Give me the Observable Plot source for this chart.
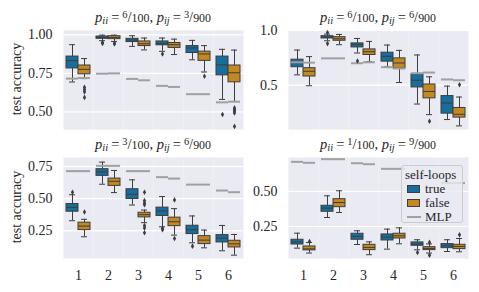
<!DOCTYPE html>
<html><head><meta charset="utf-8">
<script src="https://cdn.jsdelivr.net/npm/d3@7"></script>
<script src="https://cdn.jsdelivr.net/npm/@observablehq/plot@0.6"></script>
<style>
body{margin:0;background:#fff;}
#chart{position:relative;width:479px;height:292px;overflow:hidden;font-family:"Liberation Serif","Times New Roman","DejaVu Serif",serif;color:#262626;}
.panel{position:absolute;}
.title{position:absolute;font-size:14.5px;white-space:nowrap;transform:translate(-50%,-50%);line-height:1;}
.title sub{font-size:0.72em;vertical-align:-0.25em;line-height:0;}
.title .num{font-size:0.72em;vertical-align:0.4em;line-height:0;}
.title .den{font-size:0.82em;line-height:0;}
.title .eq{margin:0 3px;}
.ylab{position:absolute;font-size:14px;white-space:nowrap;transform:translate(-50%,-50%) rotate(-90deg);line-height:1;}
.legend{position:absolute;left:401px;top:165px;width:62px;height:58px;box-sizing:border-box;border:1px solid #cccccc;border-radius:3px;background:rgba(234,234,242,0.8);font-size:13px;line-height:1;}
.legend .row{position:absolute;left:5px;white-space:nowrap;height:13px;}
.legend .sw{display:inline-block;width:13px;height:8px;border:1px solid #3d3d3d;box-sizing:border-box;vertical-align:0px;margin-right:5px;}
.legend .ln{display:inline-block;width:14px;height:0;border-top:2px solid #a0a0a0;vertical-align:3px;margin-right:4px;}
</style></head>
<body><div id="chart"></div>
<script>
// ---- data ----
const categories = [1, 2, 3, 4, 5, 6];
const hues = ["true", "false"];
const hueColors = ["#176d9c", "#c38820"];
const piiLabels = [["6", "100"], ["6", "100"], ["3", "100"], ["1", "100"]];
const pijLabels = [["3", "900"], ["6", "900"], ["6", "900"], ["9", "900"]];

// box stats per category: [low whisker, q1, median, q3, high whisker]
const p1True = [[0.694,0.782,0.833,0.859,0.936],[0.962,0.974,0.983,0.989,0.998],[0.925,0.953,0.966,0.974,0.994],[0.893,0.932,0.944,0.957,0.979],[0.838,0.882,0.915,0.927,0.964],[0.581,0.737,0.805,0.859,0.906]];
const p1False = [[0.716,0.744,0.776,0.801,0.846],[0.957,0.972,0.983,0.991,0.998],[0.902,0.927,0.942,0.957,0.979],[0.872,0.915,0.936,0.947,0.972],[0.759,0.831,0.876,0.891,0.930],[0.568,0.692,0.754,0.801,0.901]];
const p1OutTrue = [[],[0.950,0.944],[],[0.876],[],[0.483]];
const p1OutFalse = [[0.660,0.645,0.630,0.594],[0.946,0.940],[],[],[0.731],[0.526,0.515,0.505,0.493,0.406]];
const p1MlpTrue = [0.716,0.748,0.714,0.669,0.615,0.562];
const p1MlpFalse = [0.720,0.750,0.705,0.662,0.615,0.566];

const p2True = [[0.594,0.664,0.706,0.733,0.821],[0.906,0.927,0.940,0.948,0.967],[0.794,0.845,0.870,0.882,0.927],[0.667,0.715,0.764,0.797,0.867],[0.327,0.479,0.545,0.600,0.776],[0.185,0.239,0.336,0.400,0.491]];
const p2False = [[0.494,0.579,0.627,0.655,0.761],[0.870,0.906,0.924,0.939,0.964],[0.715,0.776,0.806,0.827,0.900],[0.524,0.652,0.703,0.745,0.818],[0.230,0.379,0.442,0.506,0.576],[0.127,0.203,0.233,0.291,0.391]];
const p2OutTrue = [[],[0.982,0.880],[0.721],[],[],[]];
const p2OutFalse = [[],[],[],[],[0.170],[0.503]];
const p2MlpTrue = [0.709,0.745,0.700,0.664,0.609,0.552];
const p2MlpFalse = [0.706,0.745,0.709,0.652,0.615,0.545];

const p3True = [[0.328,0.398,0.432,0.458,0.530],[0.612,0.677,0.708,0.729,0.784],[0.450,0.497,0.534,0.573,0.646],[0.281,0.365,0.404,0.430,0.516],[0.156,0.224,0.258,0.289,0.365],[0.094,0.159,0.193,0.216,0.291]];
const p3False = [[0.203,0.255,0.286,0.313,0.339],[0.547,0.599,0.635,0.656,0.719],[0.313,0.354,0.375,0.390,0.411],[0.216,0.286,0.320,0.352,0.422],[0.117,0.146,0.177,0.208,0.255],[0.060,0.120,0.148,0.172,0.221]];
const p3OutTrue = [[0.550],[],[],[0.270,0.258],[0.130],[]];
const p3OutFalse = [[0.396],[],[0.550,0.484,0.465,0.452,0.290,0.272,0.234],[0.490,0.190],[],[]];
const p3MlpTrue = [0.714,0.755,0.714,0.667,0.609,0.563];
const p3MlpFalse = [0.714,0.755,0.714,0.656,0.609,0.550];

const p4True = [[0.095,0.121,0.140,0.155,0.202],[0.314,0.355,0.381,0.398,0.469],[0.121,0.155,0.179,0.198,0.219],[0.088,0.150,0.174,0.193,0.231],[0.083,0.112,0.124,0.136,0.155],[0.071,0.095,0.112,0.124,0.155]];
const p4False = [[0.060,0.079,0.090,0.107,0.135],[0.350,0.388,0.421,0.445,0.505],[0.048,0.081,0.100,0.119,0.140],[0.126,0.164,0.183,0.198,0.240],[0.060,0.081,0.093,0.102,0.125],[0.069,0.088,0.107,0.119,0.164]];
const p4OutTrue = [[],[],[],[],[0.064],[]];
const p4OutFalse = [[0.143],[],[],[],[0.136,0.045],[0.190]];
const p4MlpTrue = [0.712,0.731,0.702,0.662,0.610,0.560];
const p4MlpFalse = [0.705,0.731,0.695,0.662,0.610,0.560];

const yDomains = [[0.386,1.028],[0.094,1.0],[0.034,0.82],[0.021,0.743]];
const yTicks = [[0.50,0.75,1.00],[0.5,1.0],[0.25,0.50,0.75],[0.25,0.50]];
const yFormats = [".2f",".1f",".2f",".2f"];

// ---- build ----
const gray = "#3d3d3d";
const fontStack = "'Liberation Serif', 'Times New Roman', 'DejaVu Serif', serif";
const chart = document.getElementById("chart");
const layouts = [
  {left:0, top:0, width:244, height:146, ml:63, mr:1, mt:30, mb:17, showX:false},
  {left:240, top:0, width:239, height:146, ml:48, mr:11, mt:30, mb:17, showX:false},
  {left:0, top:146, width:244, height:146, ml:63, mr:1, mt:11, mb:34, showX:true},
  {left:240, top:146, width:239, height:146, ml:48, mr:11, mt:11, mb:34, showX:true}
];
const panels = [
  [p1True,p1False,p1OutTrue,p1OutFalse,p1MlpTrue,p1MlpFalse],
  [p2True,p2False,p2OutTrue,p2OutFalse,p2MlpTrue,p2MlpFalse],
  [p3True,p3False,p3OutTrue,p3OutFalse,p3MlpTrue,p3MlpFalse],
  [p4True,p4False,p4OutTrue,p4OutFalse,p4MlpTrue,p4MlpFalse]
];

panels.forEach((pd, i) => {
  const [bt, bf, ot, of, mt, mf] = pd;
  const boxes = [], outs = [], mlp = [];
  categories.forEach((c, j) => {
    [[bt, ot, mt, "true"], [bf, of, mf, "false"]].forEach(([b, o, m, h]) => {
      const [lo, q1, med, q3, hi] = b[j];
      boxes.push({cat: c, hue: h, lo, q1, med, q3, hi});
      o[j].forEach(v => outs.push({cat: c, hue: h, v}));
      mlp.push({cat: c, hue: h, v: m[j]});
    });
  });
  const L = layouts[i];
  const common = {fx: "cat", x: "hue"};
  const svg = Plot.plot({
    width: L.width, height: L.height,
    marginLeft: L.ml, marginRight: L.mr, marginTop: L.mt, marginBottom: L.mb,
    style: {fontFamily: fontStack, fontSize: "14px", color: "#262626", background: "transparent", overflow: "visible"},
    fx: {domain: categories, padding: 0, round: false, axis: L.showX ? "bottom" : null, tickSize: 0, tickPadding: 12, label: null},
    x: {domain: hues, paddingInner: 0, paddingOuter: 0.25, round: false, axis: null},
    y: {domain: yDomains[i], ticks: yTicks[i], tickFormat: d3.format(yFormats[i]), tickSize: 0, tickPadding: 11, label: null},
    color: {domain: hues, range: hueColors},
    marks: [
      Plot.frame({fill: "#eaeaf2", stroke: null}),
      Plot.ruleY(yTicks[i], {stroke: "white", strokeWidth: 1.2}),
      Plot.ruleX(boxes, {...common, y1: "lo", y2: "q1", stroke: gray, strokeWidth: 1}),
      Plot.ruleX(boxes, {...common, y1: "q3", y2: "hi", stroke: gray, strokeWidth: 1}),
      Plot.tickY(boxes, {...common, y: "lo", stroke: gray, strokeWidth: 1, insetLeft: 3, insetRight: 3}),
      Plot.tickY(boxes, {...common, y: "hi", stroke: gray, strokeWidth: 1, insetLeft: 3, insetRight: 3}),
      Plot.barY(boxes, {...common, y1: "q1", y2: "q3", fill: "hue", stroke: gray, strokeWidth: 1}),
      Plot.tickY(boxes, {...common, y: "med", stroke: gray, strokeWidth: 1}),
      Plot.tickY(mlp, {...common, y: "v", stroke: "#a0a0a0", strokeWidth: 2}),
      Plot.dot(outs, {...common, y: "v", symbol: "diamond", r: 1.7, fill: gray, stroke: null})
    ]
  });
  svg.classList.add("panel");
  svg.style.left = L.left + "px";
  svg.style.top = L.top + "px";
  chart.appendChild(svg);

  const t = document.createElement("div");
  t.className = "title";
  const cx = L.left + L.ml + (L.width - L.ml - L.mr) / 2;
  t.style.left = cx + "px";
  t.style.top = (L.top + L.mt - 13) + "px";
  t.innerHTML = `<i>p</i><sub><i>ii</i></sub><span class="eq">=</span><span class="num">${piiLabels[i][0]}</span>/<span class="den">${piiLabels[i][1]}</span>, ` +
                `<i>p</i><sub><i>ij</i></sub><span class="eq">=</span><span class="num">${pijLabels[i][0]}</span>/<span class="den">${pijLabels[i][1]}</span>`;
  chart.appendChild(t);

  if (L.left === 0) {
    const yl = document.createElement("div");
    yl.className = "ylab";
    yl.textContent = "test accuracy";
    yl.style.left = "17px";
    yl.style.top = (L.top + L.mt + (L.height - L.mt - L.mb) / 2 - 1) + "px";
    chart.appendChild(yl);
  }
});

// legend
const lg = document.createElement("div");
lg.className = "legend";
lg.innerHTML = `<div class="row" style="top:2px;left:3px">self-loops</div>` +
  hues.map((h, k) => `<div class="row" style="top:${16 + k * 14}px"><span class="sw" style="background:${hueColors[k]}"></span>${h}</div>`).join("") +
  `<div class="row" style="top:44px"><span class="ln"></span>MLP</div>`;
chart.appendChild(lg);
</script>
</body></html>
